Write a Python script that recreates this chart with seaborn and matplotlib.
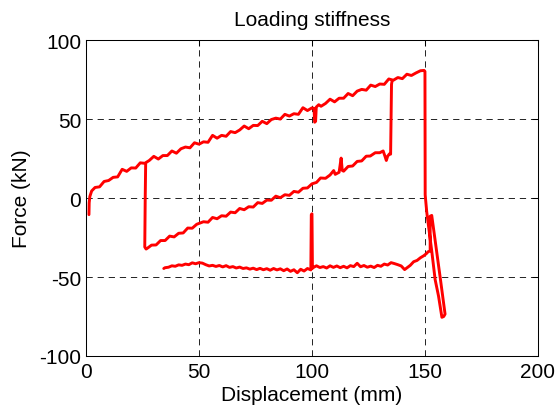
import matplotlib
matplotlib.use("Agg")
import matplotlib.pyplot as plt
import pandas as pd
import seaborn as sns

# Main path: loading up to 150 mm, unloading loop, then return at about -44 kN
disp_main = [1.3, 1.4, 1.7, 2.5, 4, 6, 8, 10, 12, 14, 16, 18, 20, 22, 24, 26, 28, 30,
             32, 34, 36, 38, 40, 42, 44, 46, 48, 50, 52, 54, 56, 58, 60, 62, 64, 66,
             68, 70, 72, 74, 76, 78, 80, 82, 84, 86, 88, 90, 92, 94, 96, 98, 100,
             100.9, 101.2, 101.6, 101.9, 103, 104, 106, 108, 110, 112, 114, 116, 118,
             120, 122, 124, 126, 128, 130, 132, 134, 136, 138, 140, 142, 144, 146, 148,
             149.6, 150.0, 150.1, 150.8, 153.0, 154.5, 156.0, 157.5, 158.3, 158.9,
             156.9, 153.85, 153.0, 152.3, 152.3, 151.4, 150.6, 149.5, 148.0, 146.5,
             145.0, 143.5, 142.0, 141.0, 139.5, 138.0, 136.5, 135.0, 133.5, 132.0,
             130.5, 129.0, 127.5, 126.0, 124.5, 123.0, 121.5, 120.0, 118.5, 117.0,
             115.5, 114.0, 112.5, 111.0, 109.5, 108.0, 106.5, 105.0, 103.5, 102.0,
             100.8, 100.2, 100.0, 99.7, 99.5, 98.0, 96.5, 95.0, 93.5, 92.0, 90.5,
             89.0, 87.5, 86.0, 84.5, 83.0, 81.5, 80.0, 78.5, 77.0, 75.5, 74.0, 72.5,
             71.0, 69.5, 68.0, 66.5, 65.0, 63.5, 62.0, 60.5, 59.0, 57.5, 56.0, 54.5,
             53.0, 51.5, 50.0, 48.5, 47.0, 45.5, 44.0, 42.5, 41.0, 39.5, 38.0, 36.5,
             35.0, 34.4]
force_main = [-10.5, -3.0, 1.0, 4.5, 6.7, 7.1, 10.5, 11.1, 13.1, 13.4, 18.2, 16.9, 19.1,
              19.0, 22.3, 22.0, 23.8, 26.4, 24.7, 26.9, 26.9, 29.8, 28.4, 31.2, 32.3,
              31.8, 35.0, 34.1, 35.6, 35.3, 39.7, 37.9, 39.7, 39.1, 42.1, 41.4, 43.1,
              45.6, 43.9, 46.0, 45.9, 48.6, 47.1, 49.7, 50.6, 50.0, 53.0, 51.9, 53.4,
              53.0, 57.2, 55.4, 57.1, 56.8, 48.0, 48.6, 57.6, 59.1, 58.1, 59.9, 62.6,
              60.9, 63.2, 63.2, 66.2, 64.8, 67.7, 68.8, 68.3, 71.5, 70.6, 72.2, 72.0,
              75.4, 74.6, 76.3, 75.6, 78.4, 77.6, 79.2, 80.6, 80.8, 80.2, 2.0, -9.0,
              -33.5, -51.6, -62.0, -75.5, -75.0, -73.5, -52.0, -20.0, -11.0, -11.5,
              -33.5, -34.0, -35.2, -36.5, -37.8, -39.5, -40.3, -42.6, -44.2, -45.3,
              -43.0, -42.2, -41.5, -40.9, -42.4, -41.8, -43.2, -42.6, -44.0, -43.1,
              -43.8, -42.7, -43.5, -41.3, -43.4, -42.8, -44.2, -43.2, -44.1, -43.0,
              -43.9, -42.9, -44.3, -43.4, -44.0, -42.9, -43.8, -44.5, -10.0, -10.5,
              -45.5, -44.6, -46.2, -45.1, -47.3, -45.4, -46.4, -44.9, -46.0, -44.8,
              -45.5, -44.6, -45.7, -44.7, -45.4, -44.5, -45.3, -44.4, -45.0, -44.2,
              -44.6, -43.7, -44.3, -43.4, -43.9, -42.8, -43.6, -42.7, -43.3, -42.6,
              -43.0, -42.2, -41.2, -40.9, -41.6, -41.0, -42.2, -41.8, -42.6, -42.3,
              -43.2, -42.9, -43.8, -44.1, -44.6]

# Second branch: drop at 26 mm and reloading up to 135 mm
disp_reload = [26.4, 26.2, 26.0, 26.6, 27.5, 29, 31, 33, 35, 37, 39, 41, 43, 45, 47, 49,
               52, 54, 56, 58, 60, 62, 64, 66, 68, 70, 72, 74, 76, 78, 80, 82, 84, 86,
               88, 90, 92, 94, 96, 98, 100, 102, 103.8, 106, 108, 109.6, 110.3, 112,
               112.9, 113.4, 114, 116, 118, 120, 122, 124, 125.8, 128, 130, 131.5,
               132.3, 132.9, 133.5, 134.3, 134.8, 135.0, 135.2, 135.5]
force_reload = [22.0, 0.0, -31.0, -32.3, -31.4, -29.8, -29.7, -26.9, -26.9, -24.1, -24.6,
                -22.3, -22.1, -19.0, -19.1, -16.6, -15.0, -15.3, -12.3, -13.1, -11.2,
                -11.5, -8.9, -9.3, -6.6, -7.4, -5.5, -5.7, -2.9, -3.4, -1.3, -1.4, 1.2,
                0.2, 2.1, 1.7, 4.2, 3.7, 6.2, 6.4, 9.0, 9.9, 12.7, 12.5, 14.6, 17.4,
                15.0, 16.3, 25.3, 17.5, 17.0, 20.0, 20.3, 23.2, 23.5, 26.5, 26.6, 28.7,
                28.7, 29.8, 26.5, 23.8, 26.5, 28.0, 27.8, 50.0, 72.0, 74.5]

x_ticks = [0, 50, 100, 150, 200]
y_ticks = [-100, -50, 0, 50, 100]

df = pd.concat([
    pd.DataFrame({'Displacement': disp_main, 'Force': force_main, 'seg': 0}),
    pd.DataFrame({'Displacement': disp_reload, 'Force': force_reload, 'seg': 1}),
], ignore_index=True)

sns.set_style("white")
plt.rcParams['font.family'] = ['Liberation Sans', 'DejaVu Sans']
plt.rcParams['axes.unicode_minus'] = False
plt.rcParams['lines.scale_dashes'] = False
plt.rcParams['text.color'] = 'black'
plt.rcParams['axes.labelcolor'] = 'black'

fig = plt.figure(figsize=(5.6, 4.14), dpi=100)
ax = fig.add_axes([0.1536, 0.1377, 0.807, 0.763])

sns.lineplot(data=df, x='Displacement', y='Force', units='seg', estimator=None,
             sort=False, color='red', linewidth=2.1, ax=ax)

ax.set_xlim(0, 200)
ax.set_ylim(-100, 100)
ax.set_xticks(x_ticks)
ax.set_yticks(y_ticks)
ax.grid(True, color='#222222', linestyle=(0, (4.5, 3.5)), linewidth=0.7)
ax.set_axisbelow(True)
for s in ax.spines.values():
    s.set_color('black')
    s.set_linewidth(0.75)
ax.tick_params(direction='in', length=4, width=0.75, top=True, right=True,
               labelsize=15, colors='black')
ax.tick_params(axis='x', pad=4)
ax.tick_params(axis='y', pad=3.5)

ax.set_title('Loading stiffness', fontsize=15, pad=11, color='black')
ax.set_xlabel('Displacement (mm)', fontsize=15, labelpad=3, color='black')
ax.set_ylabel('Force (kN)', fontsize=15, labelpad=6, color='black')

fig.savefig('out.png', dpi=100)
